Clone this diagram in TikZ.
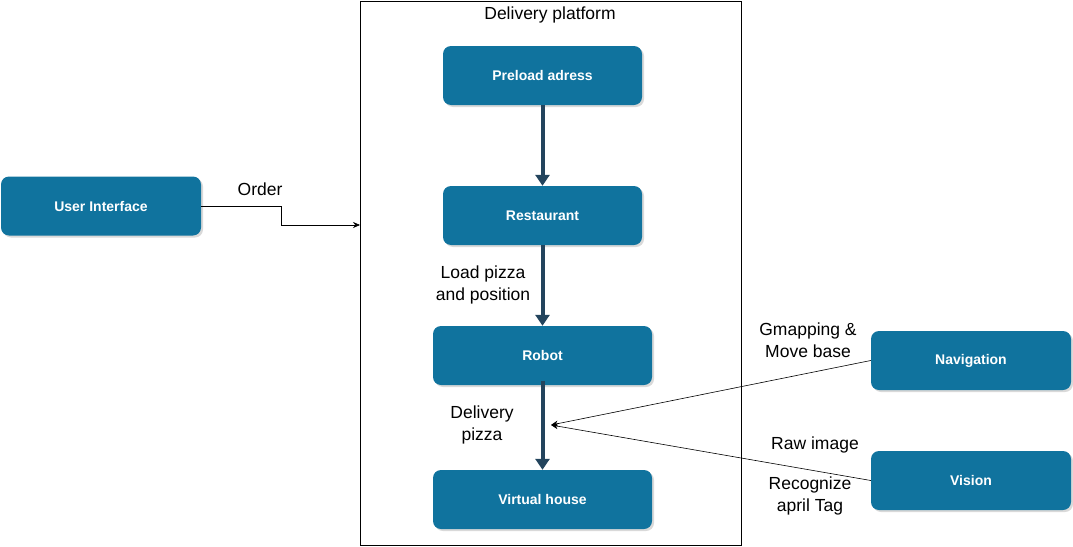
\documentclass[tikz,border=0pt]{standalone}
\usepackage{fontspec}
\setmainfont{Liberation Sans}
\usetikzlibrary{arrows.meta,shadows}

\definecolor{boxblue}{HTML}{10739E}
\definecolor{flowblue}{HTML}{23445D}

\begin{document}
\begin{tikzpicture}[x=1pt,y=-1pt,
        block/.style={rectangle,rounded corners=8pt,fill=boxblue,text=white,
          font=\fontsize{14}{16}\selectfont\bfseries,minimum height=59pt,
          drop shadow={opacity=0.3,shadow xshift=2pt,shadow yshift=-2pt}},
        flow/.style={-{Triangle[length=11pt,width=14pt]},line width=4pt,flowblue},
        link/.style={-{Stealth[length=7pt,width=6pt]},line width=0.6pt},
        lbl/.style={font=\fontsize{17.5}{22}\selectfont,align=center}]

        \useasboundingbox (0,0) rectangle (1073,546);

        \node[draw,line width=0.8pt,minimum width=381pt,minimum height=544pt] (platform) at (550.5,273) {};
        \node[lbl] (title) at (550,15) {Delivery platform};

        \node[block,minimum width=200pt] (ui) at (101,206) {User Interface};
        \node[block,minimum width=199pt] (preload) at (542.5,75.5) {Preload adress};
        \node[block,minimum width=199pt] (rest) at (542.5,215.5) {Restaurant};
        \node[block,minimum width=219pt] (robot) at (542.5,355.5) {Robot};
        \node[block,minimum width=219pt] (house) at (542.5,499.5) {Virtual house};
        \node[block,minimum width=200pt] (nav) at (971,360.5) {Navigation};
        \node[block,minimum width=200pt] (vision) at (971,480.5) {Vision};

        \coordinate (orderin) at (360,225);
        \coordinate (hit) at (551,425);

        \draw[flow] (preload.south) -- (rest.north);
        \draw[flow] (rest.south) -- (robot.north);
        \draw[flow] ([yshift=4pt]robot.south) -- (house.north);

        \draw[link] (ui.east) -- ++(80,0) |- (orderin);
        \draw[link] (nav.west) -- (hit);
        \draw[link] (vision.west) -- (hit);

        \node[lbl] (order) at (260,189) {Order};
        \node[lbl] (load) at (483,285) {Load pizza\\and position};
        \node[lbl] (deliver) at (482,425) {Delivery\\pizza};
        \node[lbl] (gmap) at (808,340) {Gmapping \&\\Move base};
        \node[lbl] (raw) at (815,445) {Raw image};
        \node[lbl] (april) at (810,496) {Recognize\\april Tag};
\end{tikzpicture}
\end{document}
